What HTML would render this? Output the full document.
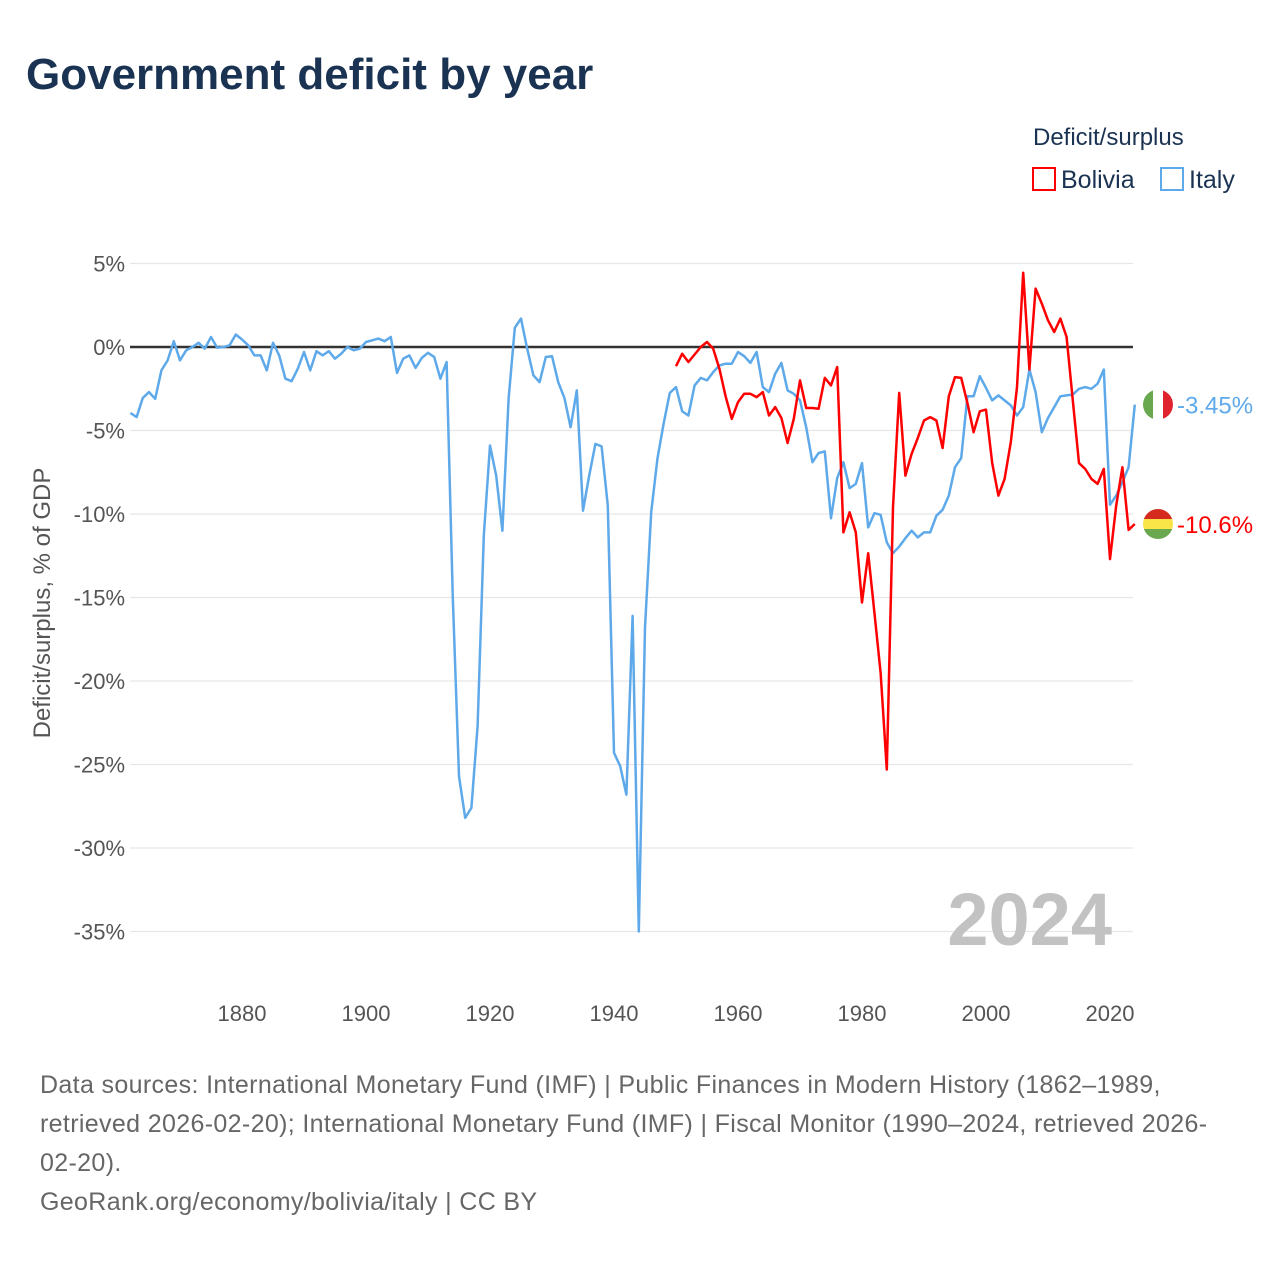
<!DOCTYPE html>
<html><head><meta charset="utf-8"><style>
body{margin:0;background:#fff;font-family:"Liberation Sans",sans-serif}
#wrap{position:relative;width:1280px;height:1280px;overflow:hidden}
.t{position:absolute;white-space:nowrap}
</style></head><body>
<div id="wrap">
<div class="t" style="left:26px;top:50px;font-size:44px;font-weight:bold;color:#1b3352">Government deficit by year</div>
<div class="t" style="left:1033px;top:124px;font-size:24px;color:#1b3352">Deficit/surplus</div>
<div class="t" style="left:1032px;top:166px;font-size:25px;color:#1b3352"><span style="display:inline-block;width:24px;height:24px;border:2px solid #f00;box-sizing:border-box;vertical-align:-3px;margin-right:5px"></span>Bolivia</div>
<div class="t" style="left:1160px;top:166px;font-size:25px;color:#1b3352"><span style="display:inline-block;width:24px;height:24px;border:2px solid #5ea9ea;box-sizing:border-box;vertical-align:-3px;margin-right:5px"></span>Italy</div>
<svg id="chart" width="1280" height="1280" style="position:absolute;left:0;top:0"></svg>
<div class="t" style="left:40px;top:1066px;font-size:25px;letter-spacing:0.35px;line-height:39px;color:#666">Data sources: International Monetary Fund (IMF) | Public Finances in Modern History (1862–1989,<br>retrieved 2026-02-20); International Monetary Fund (IMF) | Fiscal Monitor (1990–2024, retrieved 2026-<br>02-20).<br>GeoRank.org/economy/bolivia/italy | CC BY</div>
</div>
<script>
const italyStart = 1862;
const italyValues = [-3.95,-4.2,-3.05,-2.7,-3.1,-1.4,-0.8,0.35,-0.8,-0.2,0,0.25,-0.1,0.6,-0.05,0,0.1,0.75,0.45,0.1,-0.5,-0.5,-1.4,0.25,-0.5,-1.9,-2.05,-1.3,-0.3,-1.4,-0.25,-0.5,-0.25,-0.7,-0.4,0,-0.2,-0.1,0.3,0.4,0.5,0.35,0.6,-1.55,-0.7,-0.5,-1.25,-0.65,-0.35,-0.6,-1.9,-0.9,-15,-25.7,-28.2,-27.6,-22.7,-11.3,-5.9,-7.7,-11,-3.1,1.15,1.7,-0.1,-1.7,-2.1,-0.6,-0.55,-2.1,-3.05,-4.8,-2.6,-9.8,-7.7,-5.8,-5.95,-9.5,-24.3,-25.1,-26.8,-16.1,-35,-16.8,-9.9,-6.7,-4.6,-2.75,-2.4,-3.85,-4.1,-2.3,-1.85,-2.0,-1.5,-1.1,-1.0,-1.0,-0.3,-0.55,-0.95,-0.3,-2.4,-2.7,-1.6,-0.95,-2.6,-2.8,-3.2,-4.8,-6.9,-6.35,-6.25,-10.25,-7.85,-6.9,-8.45,-8.2,-6.95,-10.8,-9.95,-10.05,-11.7,-12.35,-11.95,-11.45,-11.0,-11.4,-11.1,-11.1,-10.1,-9.75,-8.9,-7.2,-6.65,-2.95,-2.95,-1.75,-2.45,-3.2,-2.9,-3.2,-3.5,-4.1,-3.6,-1.35,-2.7,-5.1,-4.25,-3.6,-2.95,-2.9,-2.85,-2.5,-2.4,-2.5,-2.2,-1.35,-9.45,-8.9,-8.1,-7.2,-3.45];
const boliviaStart = 1950;
const boliviaValues = [-1.15,-0.4,-0.9,-0.45,0,0.3,-0.1,-1.3,-2.95,-4.3,-3.3,-2.8,-2.8,-3.0,-2.7,-4.1,-3.6,-4.25,-5.75,-4.3,-2.0,-3.65,-3.65,-3.7,-1.85,-2.3,-1.2,-11.1,-9.9,-11.1,-15.3,-12.35,-15.9,-19.5,-25.3,-9.6,-2.75,-7.7,-6.4,-5.45,-4.4,-4.2,-4.4,-6.05,-2.95,-1.8,-1.85,-3.35,-5.1,-3.85,-3.75,-6.95,-8.9,-7.9,-5.7,-2.4,4.45,-1.35,3.5,2.6,1.6,0.9,1.7,0.6,-3.2,-6.95,-7.3,-7.9,-8.2,-7.3,-12.7,-9.5,-7.2,-10.95,-10.6];
const yTicks = [5,0,-5,-10,-15,-20,-25,-30,-35];
const xTicks = [1880,1900,1920,1940,1960,1980,2000,2020];

const NS='http://www.w3.org/2000/svg';
const svg=document.getElementById('chart');
const X=y=>242+(y-1880)*6.2;
const Y=v=>347-v*16.7;
function mk(tag,attrs,parent){const e=document.createElementNS(NS,tag);for(const k in attrs)e.setAttribute(k,attrs[k]);(parent||svg).appendChild(e);return e;}
yTicks.forEach(v=>{
  const g=mk('line',{x1:130,x2:1133,y1:Y(v),y2:Y(v),stroke:v===0?'#333':'#e6e6e6','stroke-width':v===0?2.5:1.2});
  
  
  const t=mk('text',{x:125,y:Y(v)+8,'text-anchor':'end','font-size':22,fill:'#555','font-family':'Liberation Sans, sans-serif'});
  t.textContent=v+'%';
  
  
});
xTicks.forEach(y=>{
  const t=mk('text',{x:X(y),y:1021,'text-anchor':'middle','font-size':22,fill:'#555','font-family':'Liberation Sans, sans-serif'});
  t.textContent=y;
  
  
});
const yt=mk('text',{x:0,y:0,transform:'translate(50,603) rotate(-90)','text-anchor':'middle','font-size':24,fill:'#555','font-family':'Liberation Sans, sans-serif'});
yt.textContent='Deficit/surplus, % of GDP';


const yr=mk('text',{x:1112,y:945,'text-anchor':'end','font-size':74,'font-weight':'bold',fill:'#c2c2c2','font-family':'Liberation Sans, sans-serif'});
yr.textContent='2024';


function line(vals,start,color,name){
  const d=vals.map((v,i)=>(i?'L':'M')+X(start+i).toFixed(1)+' '+Y(v).toFixed(1)).join(' ');
  const p=mk('path',{d:d,fill:'none',stroke:color,'stroke-width':2.5,'stroke-linejoin':'round'});
  
  
}
line(italyValues,italyStart,'#5ea9ea','italy-line');
line(boliviaValues,boliviaStart,'#ff0000','bolivia-line');
function flag(cx,cy,stripes,vertical,name){
  const g=mk('g',{});
  
  
  const id='c'+name;
  const cp=mk('clipPath',{id:id},g);mk('circle',{cx:cx,cy:cy,r:15},cp);
  stripes.forEach((c,i)=>{
    if(vertical)mk('rect',{x:cx-15+i*10,y:cy-15,width:10.5,height:30,fill:c,'clip-path':'url(#'+id+')'},g);
    else mk('rect',{x:cx-15,y:cy-15+i*10,width:30,height:10.5,fill:c,'clip-path':'url(#'+id+')'},g);
  });
}
const lastI=italyValues[italyValues.length-1], lastB=boliviaValues[boliviaValues.length-1];
flag(1158,Y(lastI),['#6aa84f','#fff','#e0242f'],true,'italy-flag');
flag(1158,Y(lastB),['#d52b1e','#f9e547','#6aa84f'],false,'bolivia-flag');
const li=mk('text',{x:1177,y:Y(lastI)+9,'font-size':24,fill:'#5ea9ea','font-family':'Liberation Sans, sans-serif'});
li.textContent=lastI+'%';


const lb=mk('text',{x:1177,y:Y(lastB)+9,'font-size':24,fill:'#ff0000','font-family':'Liberation Sans, sans-serif'});
lb.textContent=lastB+'%';


</script>
</body></html>
